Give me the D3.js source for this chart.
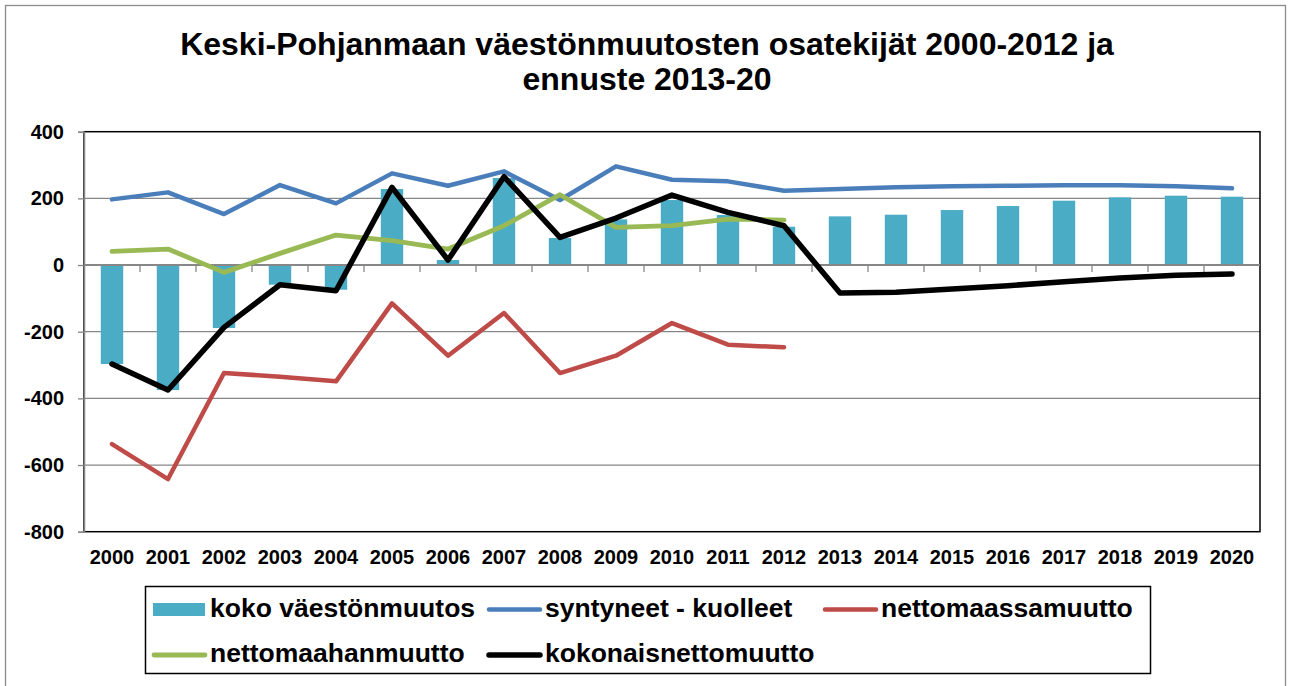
<!DOCTYPE html>
<html>
<head>
<meta charset="utf-8">
<script src="https://cdn.jsdelivr.net/npm/d3@7"></script>
<style>
    body { margin: 0; background: #fff; }
    svg text { font-family: "Liberation Sans", Arial, sans-serif; font-weight: bold; fill: #000; }
</style>
</head>
<body>
<div id="chart"></div>
<script>
var years = ['2000', '2001', '2002', '2003', '2004', '2005', '2006', '2007', '2008', '2009', '2010',
    '2011', '2012', '2013', '2014', '2015', '2016', '2017', '2018', '2019', '2020'];

var kokoMuutos = [-297, -375, -189, -59, -74, 228, 15, 261, 81, 137, 195, 150, 115,
    146, 151, 165, 177, 193, 203, 208, 205];
var syntyneetKuolleet = [197, 218, 153, 240, 185, 275, 238, 281, 195, 296, 256, 251, 223,
    228, 233, 236, 238, 239, 239, 236, 230];
var nettoMaassa = [-537, -642, -324, -335, -349, -115, -272, -144, -324, -272, -174, -239, -247,
    null, null, null, null, null, null, null, null];
var nettoMaahan = [41, 48, -22, 35, 90, 73, 48, 118, 211, 113, 118, 138, 135,
    null, null, null, null, null, null, null, null];
var kokonaisNetto = [-297, -375, -187, -59, -77, 233, 15, 265, 83, 141, 210, 158, 118,
    -84, -82, -72, -62, -50, -39, -31, -27];

var yTicks = [400, 200, 0, -200, -400, -600, -800];

var titleLines = ['Keski-Pohjanmaan väestönmuutosten osatekijät 2000-2012 ja', 'ennuste 2013-20'];

var lineSeries = [
    {name: 'syntyneet - kuolleet', values: syntyneetKuolleet, color: '#4a7ebb', width: 4.5},
    {name: 'nettomaassamuutto', values: nettoMaassa, color: '#be4b48', width: 4.5},
    {name: 'nettomaahanmuutto', values: nettoMaahan, color: '#98b954', width: 4.8},
    {name: 'kokonaisnettomuutto', values: kokonaisNetto, color: '#000000', width: 5.5}
];
var barName = 'koko väestönmuutos';
var barColor = '#4bacc6';

var W = 1292, H = 686;
var plot = {left: 84, right: 1260, top: 131.7, bottom: 531.7};

var svg = d3.select('#chart').append('svg').attr('width', W).attr('height', H);

// outer chart frame
svg.append('rect')
    .attr('x', 5.5).attr('y', 5.5).attr('width', 1280).attr('height', 700)
    .attr('fill', 'none').attr('stroke', '#8c8c8c').attr('stroke-width', 1.3);

// title
svg.selectAll('text.title').data(titleLines).enter().append('text')
    .attr('class', 'title')
    .attr('x', 647)
    .attr('y', function (d, i) { return 55 + i * 35; })
    .attr('text-anchor', 'middle')
    .style('font-size', '32px')
    .text(function (d) { return d; });

var x = d3.scaleBand().domain(years).range([plot.left, plot.right]).padding(0);
var y = d3.scaleLinear().domain([-800, 400]).range([plot.bottom, plot.top]);

// gridlines
svg.append('g').selectAll('line').data(yTicks.filter(function (t) { return t !== 400 && t !== -800 && t !== 0; }))
    .enter().append('line')
    .attr('x1', plot.left).attr('x2', plot.right)
    .attr('y1', function (d) { return y(d); }).attr('y2', function (d) { return y(d); })
    .attr('stroke', '#878787').attr('stroke-width', 1.3);

// plot area border
svg.append('rect')
    .attr('x', plot.left).attr('y', plot.top)
    .attr('width', plot.right - plot.left).attr('height', plot.bottom - plot.top)
    .attr('fill', 'none').attr('stroke', '#000').attr('stroke-width', 1.5);

// bars
var barW = x.bandwidth() * 0.4;
svg.append('g').selectAll('rect').data(kokoMuutos).enter().append('rect')
    .attr('x', function (d, i) { return x(years[i]) + (x.bandwidth() - barW) / 2; })
    .attr('y', function (d) { return y(Math.max(0, d)); })
    .attr('width', barW)
    .attr('height', function (d) { return Math.abs(y(d) - y(0)); })
    .attr('fill', barColor);

// y axis
var yAxis = svg.append('g')
    .attr('transform', 'translate(' + plot.left + ',0)')
    .call(d3.axisLeft(y).tickValues(yTicks).tickSize(6).tickPadding(14)
        .tickFormat(function (d) { return String(d); }));
yAxis.select('.domain').attr('stroke', '#878787').attr('stroke-width', 1.5);
yAxis.selectAll('.tick line').attr('stroke', '#878787').attr('stroke-width', 1.3);
yAxis.selectAll('.tick text').style('font-size', '20px').attr('fill', '#000');

// category axis at zero, ticks between categories
var xAxisLine = svg.append('g');
xAxisLine.append('line')
    .attr('x1', plot.left).attr('x2', plot.right)
    .attr('y1', y(0)).attr('y2', y(0))
    .attr('stroke', '#878787').attr('stroke-width', 2);
xAxisLine.selectAll('line.tk').data(years.slice(1)).enter().append('line')
    .attr('class', 'tk')
    .attr('x1', function (d) { return x(d); }).attr('x2', function (d) { return x(d); })
    .attr('y1', y(0)).attr('y2', y(0) + 7)
    .attr('stroke', '#878787').attr('stroke-width', 1.3);

svg.append('g').selectAll('text').data(years).enter().append('text')
    .attr('x', function (d) { return x(d) + x.bandwidth() / 2; })
    .attr('y', 564)
    .attr('text-anchor', 'middle')
    .style('font-size', '20px')
    .text(function (d) { return d; });

// lines
var line = d3.line()
    .defined(function (d) { return d !== null; })
    .x(function (d, i) { return x(years[i]) + x.bandwidth() / 2; })
    .y(function (d) { return y(d); });

svg.append('g').selectAll('path').data(lineSeries).enter().append('path')
    .attr('d', function (s) { return line(s.values); })
    .attr('fill', 'none')
    .attr('stroke', function (s) { return s.color; })
    .attr('stroke-width', function (s) { return s.width; })
    .attr('stroke-linejoin', 'round')
    .attr('stroke-linecap', 'round');

// legend
var legend = svg.append('g');
legend.append('rect')
    .attr('x', 145.5).attr('y', 586.5).attr('width', 1005).attr('height', 87)
    .attr('fill', '#fff').attr('stroke', '#000').attr('stroke-width', 1.5);

var legendItems = [
    {name: barName, color: barColor, bar: true, col: 0, row: 0},
    {name: lineSeries[0].name, color: lineSeries[0].color, width: lineSeries[0].width, col: 1, row: 0},
    {name: lineSeries[1].name, color: lineSeries[1].color, width: lineSeries[1].width, col: 2, row: 0},
    {name: lineSeries[2].name, color: lineSeries[2].color, width: lineSeries[2].width, col: 0, row: 1},
    {name: lineSeries[3].name, color: lineSeries[3].color, width: lineSeries[3].width, col: 1, row: 1}
];
var colX = [152, 487, 823];
var rowY = [609.5, 655];

var li = legend.selectAll('g.item').data(legendItems).enter().append('g')
    .attr('class', 'item')
    .attr('transform', function (d) { return 'translate(' + colX[d.col] + ',' + rowY[d.row] + ')'; });

li.each(function (d) {
    var g = d3.select(this);
    if (d.bar) {
        g.append('rect').attr('x', 1).attr('y', -6.5).attr('width', 52).attr('height', 13).attr('fill', d.color);
    } else {
        g.append('line').attr('x1', 2).attr('x2', 53).attr('y1', 0).attr('y2', 0)
            .attr('stroke', d.color).attr('stroke-width', d.width).attr('stroke-linecap', 'round');
    }
    g.append('text').attr('x', 58).attr('y', 7).style('font-size', '26.5px').text(d.name);
});
</script>
</body>
</html>
